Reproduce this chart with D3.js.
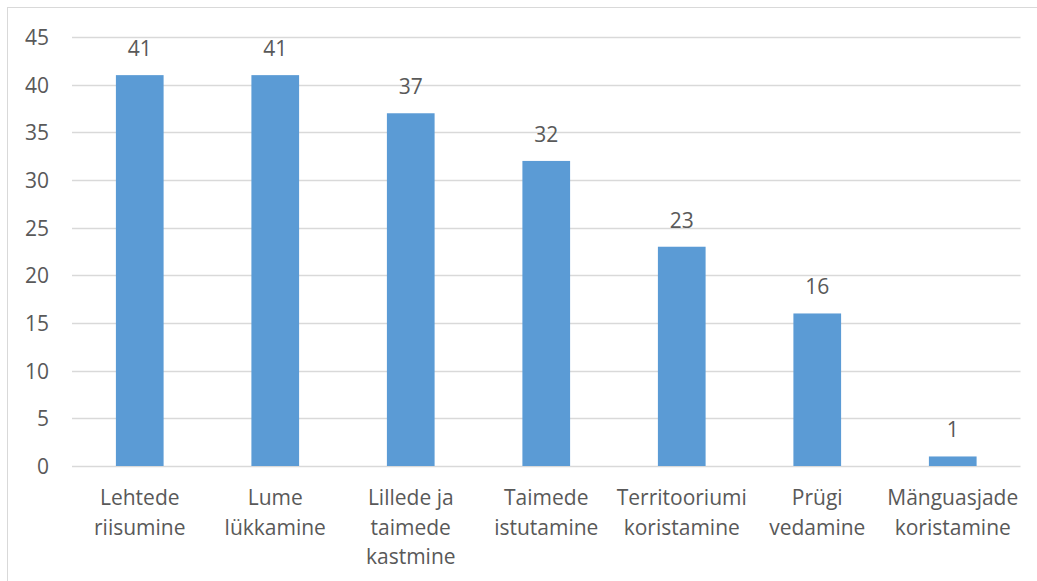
<!DOCTYPE html>
<html><head><meta charset="utf-8">
<script src="https://cdn.jsdelivr.net/npm/d3@7"></script>
<style>body{margin:0;background:#fff}svg{display:block}</style>
</head><body>
<svg id="c" width="1037" height="581"></svg>
<script>
const categories = [
  ["Lehtede","riisumine"],
  ["Lume","lükkamine"],
  ["Lillede ja","taimede","kastmine"],
  ["Taimede","istutamine"],
  ["Territooriumi","koristamine"],
  ["Prügi","vedamine"],
  ["Mänguasjade","koristamine"]
];
const values = [41, 41, 37, 32, 23, 16, 1];
const yTicks = [0, 5, 10, 15, 20, 25, 30, 35, 40, 45];

const svg = d3.select("#c");
const font = "'Open Sans', sans-serif";
const fs = 21;
const txt = "#595959";

svg.append("rect").attr("x", 7.5).attr("y", 7.5).attr("width", 1040).attr("height", 590)
  .attr("fill", "#fff").attr("stroke", "#D9D9D9").attr("stroke-width", 1);

const keys = categories.map((c, i) => i);
const x = d3.scaleBand().domain(keys).range([72, 1020.5]).paddingInner(0.648).paddingOuter(0.324);
const y = d3.scaleLinear().domain([0, 45]).range([466, 37]);

// gridlines
svg.append("g").selectAll("line").data(yTicks).join("line")
  .attr("x1", 72).attr("x2", 1020.5)
  .attr("y1", d => Math.round(y(d)) + 0.5).attr("y2", d => Math.round(y(d)) + 0.5)
  .attr("stroke", "#D9D9D9").attr("stroke-width", 1.3);

// y axis labels
const yAxis = d3.axisLeft(y).tickValues(yTicks).tickSize(0).tickPadding(0);
const ya = svg.append("g").attr("transform", "translate(49,0)").call(yAxis);
ya.select(".domain").remove();
ya.selectAll("text").attr("font-family", font).attr("font-size", fs).attr("fill", txt).attr("dy", "0.35em");

// bars
svg.append("g").selectAll("rect").data(values).join("rect")
  .attr("x", (d, i) => x(i)).attr("width", x.bandwidth())
  .attr("y", d => y(d)).attr("height", d => y(0) - y(d))
  .attr("fill", "#5B9BD5");

// value labels
svg.append("g").selectAll("text").data(values).join("text")
  .attr("x", (d, i) => x(i) + x.bandwidth() / 2).attr("y", d => y(d) - 19)
  .attr("text-anchor", "middle").attr("font-family", font).attr("font-size", fs).attr("fill", txt)
  .text(d => d);

// category labels
const cl = svg.append("g").selectAll("text").data(categories).join("text")
  .attr("text-anchor", "middle").attr("font-family", font).attr("font-size", fs).attr("fill", txt)
  .attr("transform", (d, i) => `translate(${x(i) + x.bandwidth() / 2},505)`);
cl.selectAll("tspan").data(d => d).join("tspan")
  .attr("x", 0).attr("y", (d, j) => j * 29.5).text(d => d);
</script>
</body></html>
